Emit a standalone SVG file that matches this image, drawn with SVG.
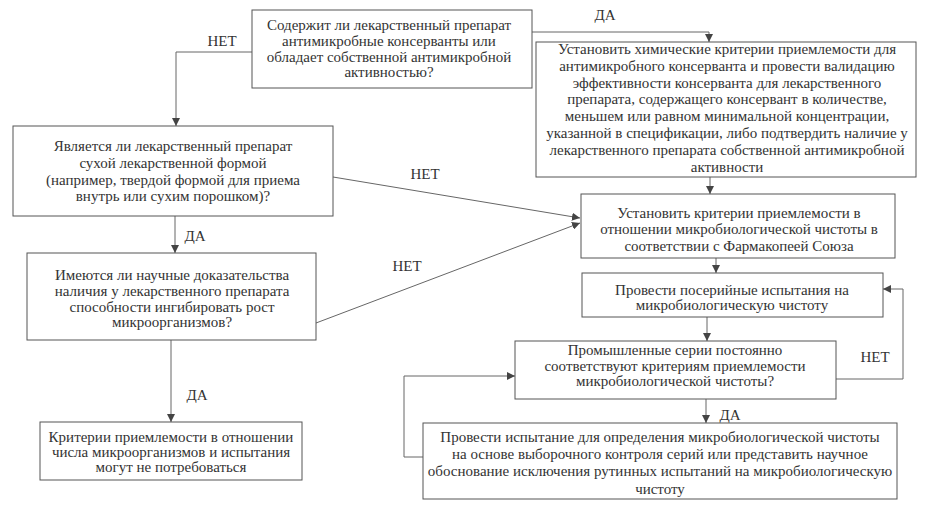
<svg xmlns="http://www.w3.org/2000/svg" width="925" height="515" viewBox="0 0 925 515">
<defs>
<marker id="ah" viewBox="0 0 10 10" refX="10" refY="5" markerWidth="8" markerHeight="8" markerUnits="userSpaceOnUse" orient="auto">
<path d="M0,0 L10,5 L0,10 z" fill="#444"/>
</marker>
</defs>
<rect width="925" height="515" fill="#fff"/>
<g id="connectors" fill="none" stroke="#666" stroke-width="1">
<polyline points="532,32 709,32 709,42" marker-end="url(#ah)"/>
<polyline points="252,52 176,52 176,126" marker-end="url(#ah)"/>
<line x1="175" y1="216" x2="175" y2="253" marker-end="url(#ah)"/>
<line x1="333" y1="177" x2="580" y2="218" marker-end="url(#ah)"/>
<line x1="316" y1="323" x2="580" y2="223" marker-end="url(#ah)"/>
<line x1="171" y1="340" x2="171" y2="422" marker-end="url(#ah)"/>
<line x1="710" y1="177" x2="710" y2="194" marker-end="url(#ah)"/>
<line x1="716" y1="258" x2="716" y2="273" marker-end="url(#ah)"/>
<line x1="707" y1="317" x2="707" y2="341" marker-end="url(#ah)"/>
<line x1="706" y1="399" x2="706" y2="423" marker-end="url(#ah)"/>
<polyline points="836,379 903,379 903,289 883,289" marker-end="url(#ah)"/>
<polyline points="423,457 404,457 404,376 515,376" marker-end="url(#ah)"/>
</g>
<g id="labels" fill="#333" stroke="none" text-anchor="middle">
<text font-family="Liberation Serif" font-size="15" x="605" y="20">ДА</text>
<text font-family="Liberation Serif" font-size="15" x="222" y="46">НЕТ</text>
<text font-family="Liberation Serif" font-size="15" x="195" y="241">ДА</text>
<text font-family="Liberation Serif" font-size="15" x="425" y="179">НЕТ</text>
<text font-family="Liberation Serif" font-size="15" x="407" y="271">НЕТ</text>
<text font-family="Liberation Serif" font-size="15" x="197" y="400">ДА</text>
<text font-family="Liberation Serif" font-size="15" x="730" y="420">ДА</text>
<text font-family="Liberation Serif" font-size="15" x="875" y="362">НЕТ</text>
</g>
<g id="nodes" fill="#fff" stroke="#555" stroke-width="1">
<rect x="252" y="10" width="280" height="78"/>
<rect x="536" y="42" width="380" height="135"/>
<rect x="13" y="126" width="320" height="90"/>
<rect x="27" y="253" width="289" height="87"/>
<rect x="40" y="422" width="262" height="58"/>
<rect x="581" y="194" width="314" height="64"/>
<rect x="582" y="273" width="301" height="44"/>
<rect x="515" y="341" width="321" height="58"/>
<rect x="423" y="423" width="474" height="76"/>
</g>
<g fill="#333" stroke="none" text-anchor="middle">
<g id="q1">
<text font-family="Liberation Serif" font-size="15" x="389" y="30">Содержит ли лекарственный препарат</text>
<text font-family="Liberation Serif" font-size="15" x="389" y="46">антимикробные консерванты или</text>
<text font-family="Liberation Serif" font-size="15" x="389" y="62">обладает собственной антимикробной</text>
<text font-family="Liberation Serif" font-size="15" x="389" y="77">активностью?</text>
</g>
<g id="a1">
<text font-family="Liberation Serif" font-size="15" x="727" y="54">Установить химические критерии приемлемости для</text>
<text font-family="Liberation Serif" font-size="15" x="727" y="71">антимикробного консерванта и провести валидацию</text>
<text font-family="Liberation Serif" font-size="15" x="727" y="88">эффективности консерванта для лекарственного</text>
<text font-family="Liberation Serif" font-size="15" x="727" y="104">препарата, содержащего консервант в количестве,</text>
<text font-family="Liberation Serif" font-size="15" x="727" y="121">меньшем или равном минимальной концентрации,</text>
<text font-family="Liberation Serif" font-size="15" x="727" y="138">указанной в спецификации, либо подтвердить наличие у</text>
<text font-family="Liberation Serif" font-size="15" x="727" y="155">лекарственного препарата собственной антимикробной</text>
<text font-family="Liberation Serif" font-size="15" x="727" y="172">активности</text>
</g>
<g id="q2">
<text font-family="Liberation Serif" font-size="15" x="173" y="151">Является ли лекарственный препарат</text>
<text font-family="Liberation Serif" font-size="15" x="173" y="168">сухой лекарственной формой</text>
<text font-family="Liberation Serif" font-size="15" x="173" y="185">(например, твердой формой для приема</text>
<text font-family="Liberation Serif" font-size="15" x="173" y="201">внутрь или сухим порошком)?</text>
</g>
<g id="q3">
<text font-family="Liberation Serif" font-size="15" x="172" y="280">Имеются ли научные доказательства</text>
<text font-family="Liberation Serif" font-size="15" x="172" y="296">наличия у лекарственного препарата</text>
<text font-family="Liberation Serif" font-size="15" x="172" y="312">способности ингибировать рост</text>
<text font-family="Liberation Serif" font-size="15" x="172" y="327">микроорганизмов?</text>
</g>
<g id="r1">
<text font-family="Liberation Serif" font-size="15" x="171" y="442">Критерии приемлемости в отношении</text>
<text font-family="Liberation Serif" font-size="15" x="171" y="457">числа микроорганизмов и испытания</text>
<text font-family="Liberation Serif" font-size="15" x="171" y="472">могут не потребоваться</text>
</g>
<g id="a2">
<text font-family="Liberation Serif" font-size="15" x="739" y="218">Установить критерии приемлемости в</text>
<text font-family="Liberation Serif" font-size="15" x="739" y="234">отношении микробиологической чистоты в</text>
<text font-family="Liberation Serif" font-size="15" x="739" y="251">соответствии с Фармакопеей Союза</text>
</g>
<g id="a3">
<text font-family="Liberation Serif" font-size="15" x="732" y="295">Провести посерийные испытания на</text>
<text font-family="Liberation Serif" font-size="15" x="732" y="310">микробиологическую чистоту</text>
</g>
<g id="q4">
<text font-family="Liberation Serif" font-size="15" x="675" y="355">Промышленные серии постоянно</text>
<text font-family="Liberation Serif" font-size="15" x="675" y="371">соответствуют критериям приемлемости</text>
<text font-family="Liberation Serif" font-size="15" x="675" y="386">микробиологической чистоты?</text>
</g>
<g id="a4">
<text font-family="Liberation Serif" font-size="15" x="660" y="442">Провести испытание для определения микробиологической чистоты</text>
<text font-family="Liberation Serif" font-size="15" x="660" y="459">на основе выборочного контроля серий или представить научное</text>
<text font-family="Liberation Serif" font-size="15" x="660" y="476">обоснование исключения рутинных испытаний на микробиологическую</text>
<text font-family="Liberation Serif" font-size="15" x="660" y="494">чистоту</text>
</g>
</g>
</svg>
